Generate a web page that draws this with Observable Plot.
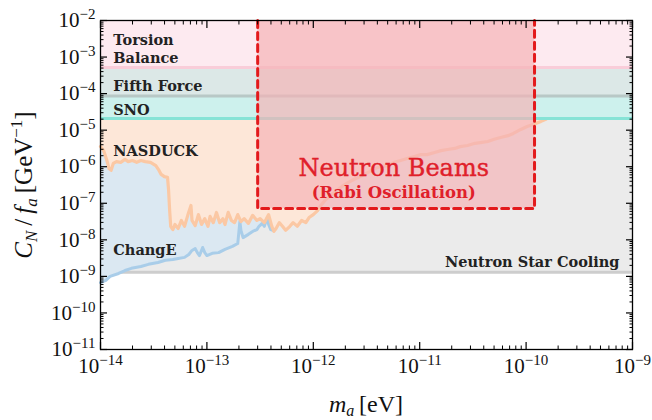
<!DOCTYPE html>
<html><head><meta charset="utf-8">
<script src="https://cdn.jsdelivr.net/npm/d3@7"></script>
<script src="https://cdn.jsdelivr.net/npm/@observablehq/plot@0.6"></script>
<style>body{margin:0;background:#fff}</style>
</head><body><div id="chart"></div>
<script>
// ---- data (log10 values) ----
const nasduckLogMass = [-14.00,-13.97,-13.94,-13.92,-13.90,-13.88,-13.85,-13.81,-13.77,-13.74,-13.70,-13.66,-13.62,-13.58,-13.53,-13.48,-13.45,-13.43,-13.40,-13.37,-13.36,-13.35,-13.34,-13.32,-13.30,-13.27,-13.24,-13.21,-13.18,-13.15,-13.14,-13.11,-13.08,-13.05,-13.02,-12.99,-12.97,-12.94,-12.91,-12.88,-12.85,-12.83,-12.80,-12.77,-12.74,-12.71,-12.68,-12.65,-12.61,-12.57,-12.53,-12.50,-12.46,-12.42,-12.39,-12.37,-12.35,-12.32,-12.29,-12.26,-12.22,-12.19,-12.15,-12.11,-12.07,-12.04,-12.00,-11.96,-11.93,-11.89,-11.84,-11.78,-11.73,-11.67,-11.62,-11.56,-11.49,-11.42,-11.36,-11.30,-11.24,-11.18,-11.11,-11.05,-10.99,-10.93,-10.86,-10.80,-10.74,-10.67,-10.62,-10.55,-10.48,-10.43,-10.36,-10.30,-10.24,-10.17,-10.12,-10.05,-9.99,-9.93,-9.86,-9.82,-9.79];
const nasduckLogCoupling = [-5.45,-5.56,-5.83,-6.05,-6.10,-5.91,-5.86,-5.88,-5.80,-5.86,-5.83,-5.88,-5.83,-5.86,-5.88,-5.97,-6.10,-6.21,-6.27,-6.29,-6.65,-7.20,-7.63,-7.72,-7.58,-7.69,-7.47,-7.63,-7.33,-7.06,-7.47,-7.61,-7.31,-7.58,-7.42,-7.63,-7.36,-7.53,-7.25,-7.53,-7.42,-7.58,-7.25,-7.47,-7.53,-7.31,-7.50,-7.42,-7.55,-7.33,-7.47,-7.42,-7.53,-7.31,-7.63,-7.77,-7.69,-7.53,-7.63,-7.74,-7.63,-7.53,-7.63,-7.47,-7.53,-7.39,-7.31,-7.20,-7.06,-6.92,-6.79,-6.65,-6.54,-6.43,-6.35,-6.27,-6.16,-6.05,-5.99,-5.97,-5.88,-5.83,-5.77,-5.72,-5.67,-5.67,-5.61,-5.56,-5.53,-5.50,-5.45,-5.42,-5.36,-5.34,-5.31,-5.25,-5.20,-5.15,-5.09,-4.98,-4.90,-4.84,-4.76,-4.71,-4.65];
const changeLogMass = [-14.00,-13.95,-13.91,-13.83,-13.77,-13.71,-13.62,-13.55,-13.46,-13.39,-13.32,-13.27,-13.21,-13.17,-13.14,-13.11,-13.09,-13.07,-13.05,-13.04,-13.02,-13.00,-12.95,-12.89,-12.83,-12.76,-12.71,-12.70,-12.69,-12.68,-12.66,-12.61,-12.57,-12.53,-12.51,-12.48,-12.46,-12.44,-12.43,-12.42,-12.40,-12.38];
const changeLogCoupling = [-9.17,-9.11,-9.00,-8.92,-8.84,-8.78,-8.73,-8.67,-8.62,-8.56,-8.54,-8.51,-8.48,-8.40,-8.29,-8.24,-8.35,-8.43,-8.29,-8.21,-8.35,-8.43,-8.37,-8.35,-8.26,-8.18,-8.10,-7.80,-7.50,-7.74,-7.94,-7.85,-7.77,-7.72,-7.63,-7.55,-7.63,-7.44,-7.39,-7.58,-7.72,-7.74];

const bandNames = ["Torsion Balance", "Fifth Force", "SNO"];
const bandLower = [5.2e-4, 8.6e-5, 2.1e-5];
const bandUpper = [1e-2, 5.2e-4, 8.6e-5];
const coolingLimit = 1.3e-9;            // Neutron Star Cooling
const beamMassRange = [3e-13, 1.2e-10]; // Neutron Beams (Rabi Oscillation)
const beamCouplingMin = 7.2e-8;

const xTickExponents = [-14, -13, -12, -11, -10, -9];
const yTickExponents = [-11, -10, -9, -8, -7, -6, -5, -4, -3, -2];

const labelTexts = ["Torsion", "Balance", "Fifth Force", "SNO", "NASDUCK", "ChangE"];
const labelMass = [1.32e-14, 1.32e-14, 1.32e-14, 1.32e-14, 1.32e-14, 1.32e-14];
const labelCoupling = [2.84e-3, 9.1e-4, 1.57e-4, 3.47e-5, 2.7e-6, 5.1e-9];

// ---- build tables ----
const pts = (lm, lc) => lm.map((v, i) => ({m: 10 ** v, c: 10 ** lc[i]}));
const nasduck = pts(nasduckLogMass, nasduckLogCoupling);
const change = pts(changeLogMass, changeLogCoupling);
const xDomain = [10 ** xTickExponents[0], 10 ** xTickExponents[xTickExponents.length - 1]];
const yDomain = [10 ** yTickExponents[0], 10 ** yTickExponents[yTickExponents.length - 1]];
const topC = yDomain[1];
const bands = bandNames.map((n, i) => ({name: n, lo: bandLower[i], hi: bandUpper[i]}));
const bandFills = ["#fdeaf0", "#dce8e7", "#cdf1ed"];
const bandLines = ["#f9cdd9", "#b8c8c6", "#86e3d6"];
const beamOutline = [
  {m: beamMassRange[0], c: topC}, {m: beamMassRange[0], c: beamCouplingMin},
  {m: beamMassRange[1], c: beamCouplingMin}, {m: beamMassRange[1], c: topC}
];
const labels = labelTexts.map((t, i) => ({t, m: labelMass[i], c: labelCoupling[i]}));

const xMajor = xTickExponents.map(e => 10 ** e);
const yMajor = yTickExponents.map(e => 10 ** e);
const xMinor = [], yMinor = [];
xTickExponents.slice(0, -1).forEach(e => { for (let k = 2; k <= 9; k++) xMinor.push(k * 10 ** e); });
yTickExponents.slice(0, -1).forEach(e => { for (let k = 2; k <= 9; k++) yMinor.push(k * 10 ** e); });
const expFmt = d => "10^" + Math.round(Math.log10(d));
const blank = () => "";
const SERIF = "Liberation Serif, serif";
const BOLD = "DejaVu Serif, serif";
const beamCenter = Math.sqrt(beamMassRange[0] * beamMassRange[1]) * 0.95;

const chart = Plot.plot({
  width: 652, height: 420,
  marginTop: 20, marginRight: 20, marginBottom: 71, marginLeft: 100,
  style: {background: "#fff", fontFamily: SERIF},
  x: {type: "log", domain: xDomain},
  y: {type: "log", domain: yDomain},
  marks: [
    // Neutron star cooling region
    Plot.rect([coolingLimit], {x1: xDomain[0], x2: xDomain[1], y1: d => d, y2: topC, fill: "#ebebeb"}),
    Plot.ruleY([coolingLimit], {stroke: "#cdcdcd", strokeWidth: 3}),
    // ChangE and NASDUCK
    Plot.areaY(change, {x: "m", y1: "c", y2: topC, fill: "#dbe8f2"}),
    Plot.areaY(nasduck, {x: "m", y1: "c", y2: topC, fill: "#fde7d8"}),
    Plot.line(change, {x: "m", y: "c", stroke: "#a9cde9", strokeWidth: 3}),
    Plot.line(nasduck, {x: "m", y: "c", stroke: "#fbc8a4", strokeWidth: 3.2}),
    // laboratory bands
    Plot.rect(bands, {x1: xDomain[0], x2: xDomain[1], y1: "lo", y2: "hi", fill: (d, i) => bandFills[i]}),
    Plot.ruleY(bands, {y: "lo", stroke: (d, i) => bandLines[i], strokeWidth: 3}),
    // Neutron beams projection
    Plot.rect([beamCouplingMin], {x1: beamMassRange[0], x2: beamMassRange[1], y1: d => d, y2: topC, fill: "#f5b3b5", fillOpacity: 0.68}),
    Plot.line(beamOutline, {x: "m", y: "c", stroke: "#e31a1c", strokeWidth: 3, strokeDasharray: "7,5"}),
    // labels
    Plot.text(labels, {x: "m", y: "c", text: "t", textAnchor: "start", fontFamily: BOLD, fontWeight: "bold", fontSize: 14.5, fill: "#222"}),
    Plot.text(["Neutron Star Cooling"], {x: 7.55e-10, y: 2.4e-9, text: d => d, textAnchor: "end", fontFamily: BOLD, fontWeight: "bold", fontSize: 14.5, fill: "#222"}),
    Plot.text(["Neutron Beams"], {x: beamCenter, y: 8.9e-7, text: d => d, fontFamily: "DejaVu Serif, serif", fontSize: 24, fill: "#e0202a", stroke: "#e0202a", strokeWidth: 0.4}),
    Plot.text(["(Rabi Oscillation)"], {x: beamCenter, y: 2.0e-7, text: d => d, fontFamily: BOLD, fontWeight: "bold", fontSize: 16.5, fill: "#e0202a"}),
    // frame and inward ticks on all four sides
    Plot.frame({stroke: "#000", strokeWidth: 1.3}),
    Plot.axisX({anchor: "bottom", ticks: xMajor, tickSize: -7, tickFormat: blank, label: null, strokeWidth: 1.2}),
    Plot.axisX({anchor: "top", ticks: xMajor, tickSize: -7, tickFormat: blank, label: null, strokeWidth: 1.2}),
    Plot.axisX({anchor: "bottom", ticks: xMinor, tickSize: -3.5, tickFormat: blank, label: null}),
    Plot.axisX({anchor: "top", ticks: xMinor, tickSize: -3.5, tickFormat: blank, label: null}),
    Plot.axisY({anchor: "left", ticks: yMajor, tickSize: -7, tickFormat: blank, label: null, strokeWidth: 1.2}),
    Plot.axisY({anchor: "right", ticks: yMajor, tickSize: -7, tickFormat: blank, label: null, strokeWidth: 1.2}),
    Plot.axisY({anchor: "left", ticks: yMinor, tickSize: -3.5, tickFormat: blank, label: null}),
    Plot.axisY({anchor: "right", ticks: yMinor, tickSize: -3.5, tickFormat: blank, label: null}),
    Plot.axisX({anchor: "bottom", ticks: xMajor, tickSize: 0, tickPadding: 9, tickFormat: expFmt, label: null, fill: "#111"}),
    Plot.axisY({anchor: "left", ticks: yMajor, tickSize: 0, tickPadding: 5, tickFormat: expFmt, label: null, fill: "#111"})
  ]
});

// superscript exponents in tick labels
const NS = "http://www.w3.org/2000/svg";
chart.querySelectorAll("text").forEach(t => {
  const m = t.textContent.match(/^10\^(-?\d+)$/);
  if (!m) return;
  t.textContent = "10";
  t.setAttribute("font-size", "21");
  t.style.fontSize = "21px";
  const s = document.createElementNS(NS, "tspan");
  s.setAttribute("font-size", "15");
  s.style.fontSize = "15px";
  s.setAttribute("dy", "-8");
  s.textContent = m[1].replace("-", "\u2212");
  t.appendChild(s);
});

// axis titles
const svg = d3.select(chart);
const yl = svg.append("text")
  .attr("transform", "translate(32,185) rotate(-90)")
  .attr("text-anchor", "middle")
  .attr("font-family", SERIF).attr("font-size", 25).attr("fill", "#111");
yl.append("tspan").attr("font-style", "italic").text("C");
yl.append("tspan").attr("font-style", "italic").attr("font-size", 17).attr("dy", 5).text("N");
yl.append("tspan").attr("dy", -5).text("\u2009/\u2009");
yl.append("tspan").attr("font-style", "italic").text("f");
yl.append("tspan").attr("font-style", "italic").attr("font-size", 17).attr("dy", 5).text("a");
yl.append("tspan").attr("dy", -5).text("\u2009[GeV");
yl.append("tspan").attr("font-size", 17).attr("dy", -10).text("\u22121");
yl.append("tspan").attr("dy", 10).text("]");

const xl = svg.append("text")
  .attr("x", 366).attr("y", 412)
  .attr("text-anchor", "middle")
  .attr("font-family", SERIF).attr("font-size", 24).attr("fill", "#111");
xl.append("tspan").attr("font-style", "italic").text("m");
xl.append("tspan").attr("font-style", "italic").attr("font-size", 16).attr("dy", 4).text("a");
xl.append("tspan").attr("dy", -4).text("\u2009[eV]");

document.getElementById("chart").appendChild(chart);
</script>
</body></html>
